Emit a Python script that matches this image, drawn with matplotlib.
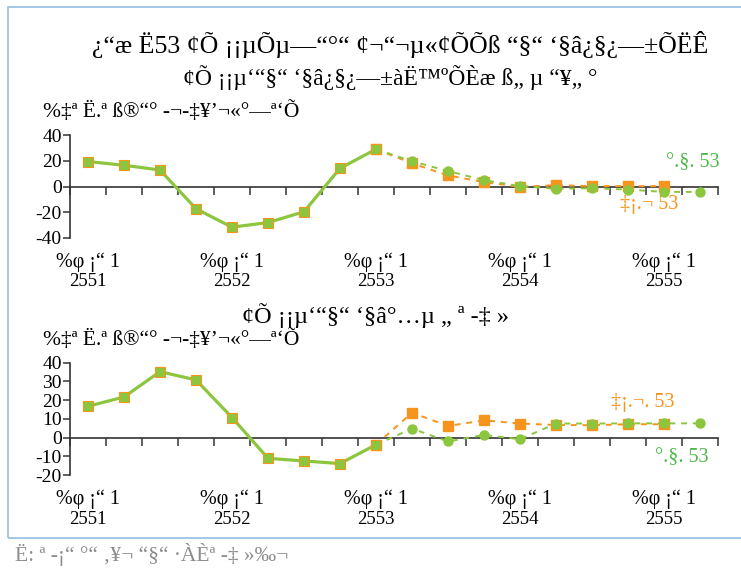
import matplotlib
matplotlib.use("Agg")
import matplotlib.pyplot as plt
from matplotlib.patches import Rectangle

plt.rcParams['font.family'] = ['Liberation Serif', 'DejaVu Serif']

# ---------------- data ----------------
years = ["2551", "2552", "2553", "2554", "2555"]
quarter_text = "%φ ¡“ 1"
n_quarters = 18
label_idx = [0, 4, 8, 12, 16]

top_actual = [19.4, 16.5, 12.8, -17.3, -31.6, -28.0, -19.6, 14.1, 29.0]
top_orange = [29.0, 18.0, 8.6, 3.4, -0.2, 1.0, 0.3, 0.3, 0.3]
top_green = [29.0, 19.6, 12.0, 4.9, 0.3, -1.8, -1.3, -2.4, -4.2, -4.2]

bot_actual = [16.7, 21.7, 35.2, 30.8, 10.7, -11.1, -12.5, -13.9, -3.8]
bot_orange = [-3.8, 13.3, 6.2, 9.2, 7.5, 6.7, 6.6, 7.1, 7.1]
bot_green = [-3.8, 4.8, -2.1, 1.4, -0.9, 7.5, 7.5, 7.6, 7.6, 7.6]

title = "¿“æ Ë53 ¢Õ ¡¡µÕµ—“°“ ¢¬“¬µ«¢ÕÕß “§“ ‘§â¿§¿—±ÕËÊ"
subtitle = "¢Õ ¡¡µ‘“§“ ‘§â¿§¿—±àË™ºÕÈæ ß„ µ “¥„ °"
ylabel = "%‡ª Ë.ª ß®“° -¬-‡¥’¬«°—ª‘Õ"
subtitle2 = "¢Õ ¡¡µ‘“§“ ‘§â°…µ „ ª -‡ »"
green_name = "°.§. 53"
orange_name_top = "‡¡.¬ 53"
orange_name_bot = "‡¡.¬. 53"
footer = "Ë: ª -¡“ °“ ‚¥¬ “§“ ·ÀÈª -‡ »‰¬"

GREEN = "#8cc63e"
GREEN_TXT = "#4db848"
ORANGE = "#f7941d"
AXC = "#333333"

fig = plt.figure(figsize=(7.41, 5.71), dpi=100)
W, H = 741, 571

def fx(px):
    return px / W

def fy(py):
    return 1 - py / H

# frame
fig.patches.append(Rectangle((fx(8), fy(537.5)), 1.2, fy(7) - fy(537.5),
                             transform=fig.transFigure, fill=False,
                             edgecolor="#9cc3e5", linewidth=1.3))

fig.text(fx(400), fy(45), title, ha="center", va="center", fontsize=18.6)
fig.text(fx(390), fy(78), subtitle, ha="center", va="center", fontsize=17)
fig.text(fx(15), fy(555), footer, ha="left", va="center", fontsize=15.5, color="#8c8c8c")


def panel(rect, ymin, ymax, yticks, actual, orange, green, ylab_y, labels):
    ax = fig.add_axes(rect)
    ax.set_xlim(0, n_quarters)
    ax.set_ylim(ymin, ymax)
    x_hist = [i + 0.5 for i in range(len(actual))]
    start = len(actual) - 1
    x_or = [start + i + 0.5 for i in range(len(orange))]
    x_gr = [start + i + 0.5 for i in range(len(green))]
    ax.plot(x_or, orange, color=ORANGE, lw=1.4, ls=(0, (3, 3)),
            marker="s", ms=6.5, mfc=ORANGE, mec=ORANGE, zorder=3)
    ax.plot(x_gr, green, color=GREEN, lw=1.4, ls=(0, (3, 3)),
            marker="o", ms=6.5, mfc=GREEN, mec=GREEN, zorder=4)
    ax.plot(x_hist, actual, color=GREEN, lw=2.3, marker="s", ms=7,
            mfc=GREEN, mec=ORANGE, mew=0.8, zorder=5)
    for s in ("top", "right"):
        ax.spines[s].set_visible(False)
    ax.spines["bottom"].set_position(("data", 0))
    ax.spines["bottom"].set_color(AXC)
    ax.spines["left"].set_color(AXC)
    ax.spines["bottom"].set_linewidth(1.2)
    ax.spines["left"].set_linewidth(1.2)
    ax.set_xticks(range(0, n_quarters + 1))
    ax.set_xticklabels([])
    ax.tick_params(axis="x", direction="out", length=6, width=1.1, color=AXC)
    ax.set_yticks(yticks)
    ax.set_yticklabels([str(v) for v in yticks])
    ax.tick_params(axis="y", direction="out", length=5, width=1.1, color=AXC,
                   labelsize=14, pad=1)
    ax.patch.set_alpha(0)
    for k, i in enumerate(label_idx):
        ax.annotate(quarter_text, xy=(i + 0.5, 0), xycoords=("data", "axes fraction"),
                    xytext=(0, -24), textcoords="offset pixels",
                    ha="center", va="center", fontsize=14.5)
        ax.annotate(years[k], xy=(i + 0.5, 0), xycoords=("data", "axes fraction"),
                    xytext=(0, -44), textcoords="offset pixels",
                    ha="center", va="center", fontsize=13.5)
    fig.text(fx(43), fy(ylab_y), ylabel, ha="left", va="center", fontsize=15.5)
    for (tx, ty, txt, col) in labels:
        ax.text(tx, ty, txt, color=col, ha="center", va="center", fontsize=14.5)
    return ax

panel([fx(70), fy(238), fx(718) - fx(70), fy(135) - fy(238)], -40, 40,
      [-40, -20, 0, 20, 40], top_actual, top_orange, top_green, 112,
      [(17.3, 18.5, green_name, GREEN_TXT), (16.1, -14, orange_name_top, ORANGE)])

fig.text(fx(375), fy(316), subtitle2, ha="center", va="center", fontsize=17.5)

panel([fx(70), fy(475), fx(718) - fx(70), fy(362.7) - fy(475)], -20, 40,
      [-20, -10, 0, 10, 20, 30, 40], bot_actual, bot_orange, bot_green, 340,
      [(15.9, 18.9, orange_name_bot, ORANGE), (17.0, -10.5, green_name, GREEN_TXT)])

fig.savefig("out.png", dpi=100)
